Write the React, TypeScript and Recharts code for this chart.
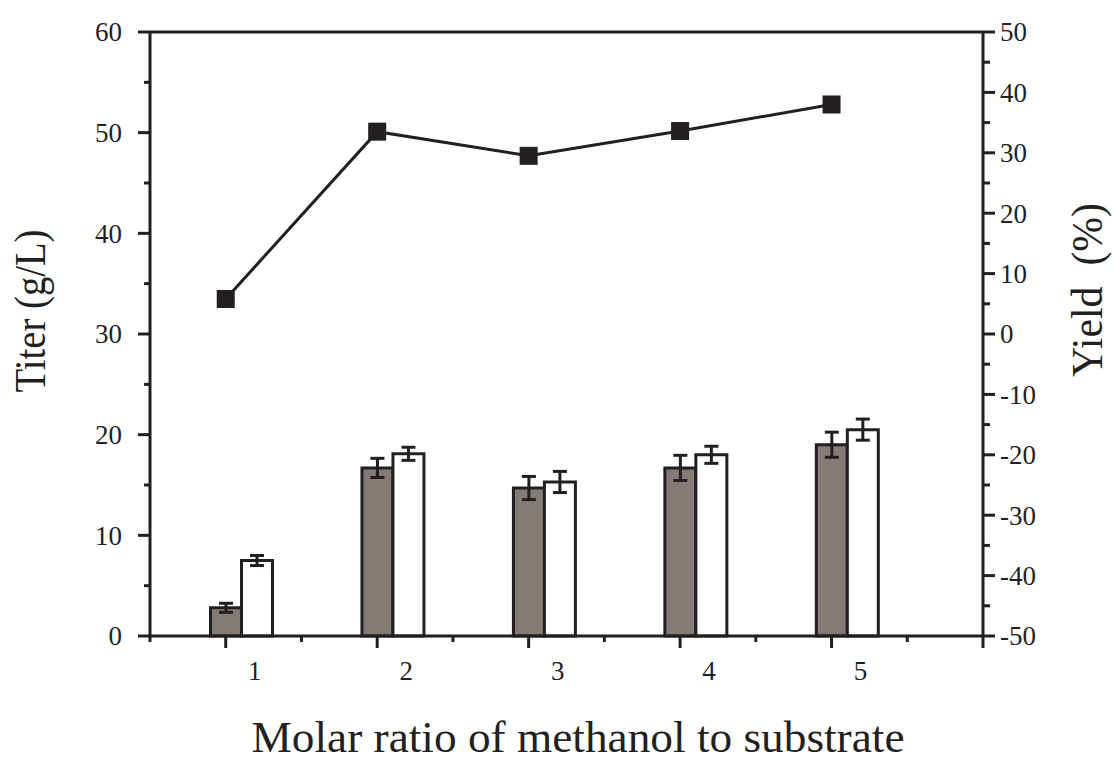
import React from 'react';
import {
  ComposedChart,
  Bar,
  Line,
  XAxis,
  YAxis,
  ErrorBar,
  ReferenceLine
} from 'recharts';

const ratios = [1, 2, 3, 4, 5];
const titerA = [2.8, 16.7, 14.7, 16.7, 19.0];
const titerAErr = [0.45, 0.95, 1.15, 1.25, 1.25];
const titerB = [7.5, 18.1, 15.3, 18.0, 20.5];
const titerBErr = [0.5, 0.65, 1.05, 0.85, 1.05];
const yieldPct = [5.8, 33.5, 29.5, 33.6, 38.0];

const xTicks = [0.5, 1, 1.5, 2, 2.5, 3, 3.5, 4, 4.5, 5, 5.5, 6];
const leftTicks = [0, 5, 10, 15, 20, 25, 30, 35, 40, 45, 50, 55, 60];
const rightTicks = [-50, -45, -40, -35, -30, -25, -20, -15, -10, -5, 0, 5, 10, 15, 20, 25, 30, 35, 40, 45, 50];

const data = ratios.map((x, i) => ({
  x,
  a: titerA[i],
  aErr: titerAErr[i],
  b: titerB[i],
  bErr: titerBErr[i],
  y: yieldPct[i]
}));

const INK = '#231f20';
const GREY = '#857b75';
const FONT = '"Liberation Serif", "Times New Roman", serif';

// bars sit with the grey one centred on the tick, so their axis is shifted by half a bar
const BAR = 31;
const SHIFT = (BAR / 2) / (833 / 5.5);

const LeftTick = (props: any) => {
  const { x, y, payload } = props;
  const major = payload.value % 10 === 0;
  return (
    <g>
      <line x1={x} x2={x - (major ? 12 : 6)} y1={y} y2={y} stroke={INK} strokeWidth={3} />
      {major && (
        <text x={x - 28} y={y} dy="0.35em" textAnchor="end" fontFamily={FONT} fontSize={27} fill={INK}>
          {payload.value}
        </text>
      )}
    </g>
  );
};

const RightTick = (props: any) => {
  const { x, y, payload } = props;
  const major = payload.value % 10 === 0;
  return (
    <g>
      <line x1={x} x2={x + (major ? 12 : 7)} y1={y} y2={y} stroke={INK} strokeWidth={3} />
      {major && (
        <text x={x + 17} y={y} dy="0.35em" textAnchor="start" fontFamily={FONT} fontSize={27} fill={INK}>
          {payload.value}
        </text>
      )}
    </g>
  );
};

const BottomTick = (props: any) => {
  const { x, y, payload } = props;
  const major = Number.isInteger(payload.value);
  const showLabel = major && payload.value <= 5;
  return (
    <g>
      <line x1={x} x2={x} y1={y} y2={y + (major ? 12 : 6)} stroke={INK} strokeWidth={3} />
      {showLabel && (
        <text x={x + 29} y={y + 44} textAnchor="middle" fontFamily={FONT} fontSize={27} fill={INK}>
          {payload.value}
        </text>
      )}
    </g>
  );
};

const Square = (props: any) => {
  const { cx, cy, index } = props;
  return <rect key={`sq-${index}`} x={cx - 9} y={cy - 9} width={18} height={18} fill={INK} />;
};

export default function App() {
  return (
    <div style={{ position: 'absolute', left: 0, top: 0, background: '#fff' }}>
      <ComposedChart
        width={1115}
        height={763}
        data={data}
        margin={{ top: 32, right: 0, bottom: 0, left: 0 }}
        barGap={0}
      >
        <XAxis
          xAxisId="main"
          dataKey="x"
          type="number"
          domain={[0.5, 6]}
          ticks={xTicks}
          interval={0}
          allowDataOverflow
          height={127}
          tickSize={0}
          tickMargin={0}
          tickLine={false}
          axisLine={{ stroke: INK, strokeWidth: 3 }}
          tick={<BottomTick />}
        />
        <XAxis
          xAxisId="bars"
          dataKey="x"
          type="number"
          domain={[0.5 - SHIFT, 6 - SHIFT]}
          allowDataOverflow
          height={0}
          hide
        />
        <YAxis
          yAxisId="left"
          orientation="left"
          domain={[0, 60]}
          ticks={leftTicks}
          interval={0}
          width={150}
          tickSize={0}
          tickMargin={0}
          tickLine={false}
          axisLine={{ stroke: INK, strokeWidth: 3 }}
          tick={<LeftTick />}
        />
        <YAxis
          yAxisId="right"
          orientation="right"
          domain={[-50, 50]}
          ticks={rightTicks}
          interval={0}
          width={132}
          tickSize={0}
          tickMargin={0}
          tickLine={false}
          axisLine={{ stroke: INK, strokeWidth: 3 }}
          tick={<RightTick />}
        />
        <ReferenceLine xAxisId="main" yAxisId="left" y={60} stroke={INK} strokeWidth={3} />
        <Bar
          xAxisId="bars"
          yAxisId="left"
          dataKey="a"
          barSize={BAR}
          fill={GREY}
          stroke={INK}
          strokeWidth={3}
          isAnimationActive={false}
        >
          <ErrorBar dataKey="aErr" direction="y" width={7} stroke={INK} strokeWidth={3} />
        </Bar>
        <Bar
          xAxisId="bars"
          yAxisId="left"
          dataKey="b"
          barSize={BAR}
          fill="#ffffff"
          stroke={INK}
          strokeWidth={3}
          isAnimationActive={false}
        >
          <ErrorBar dataKey="bErr" direction="y" width={7} stroke={INK} strokeWidth={3} />
        </Bar>
        <Line
          xAxisId="main"
          yAxisId="right"
          dataKey="y"
          stroke={INK}
          strokeWidth={3}
          dot={<Square />}
          activeDot={false}
          isAnimationActive={false}
        />
        <text
          x={578}
          y={752}
          textAnchor="middle"
          fontFamily={FONT}
          fontSize={45}
          fill={INK}
          textLength={653}
          lengthAdjust="spacingAndGlyphs"
        >
          Molar ratio of methanol to substrate
        </text>
        <text
          transform="translate(45, 311) rotate(-90)"
          textAnchor="middle"
          fontFamily={FONT}
          fontSize={44}
          fill={INK}
          textLength={163}
          lengthAdjust="spacingAndGlyphs"
        >
          Titer (g/L)
        </text>
        <text
          transform="translate(1102, 290) rotate(-90)"
          textAnchor="middle"
          fontFamily={FONT}
          fontSize={44}
          fill={INK}
          textLength={174}
          lengthAdjust="spacingAndGlyphs"
          style={{ whiteSpace: 'pre' }}
        >
          {'Yield  (%)'}
        </text>
      </ComposedChart>
    </div>
  );
}
